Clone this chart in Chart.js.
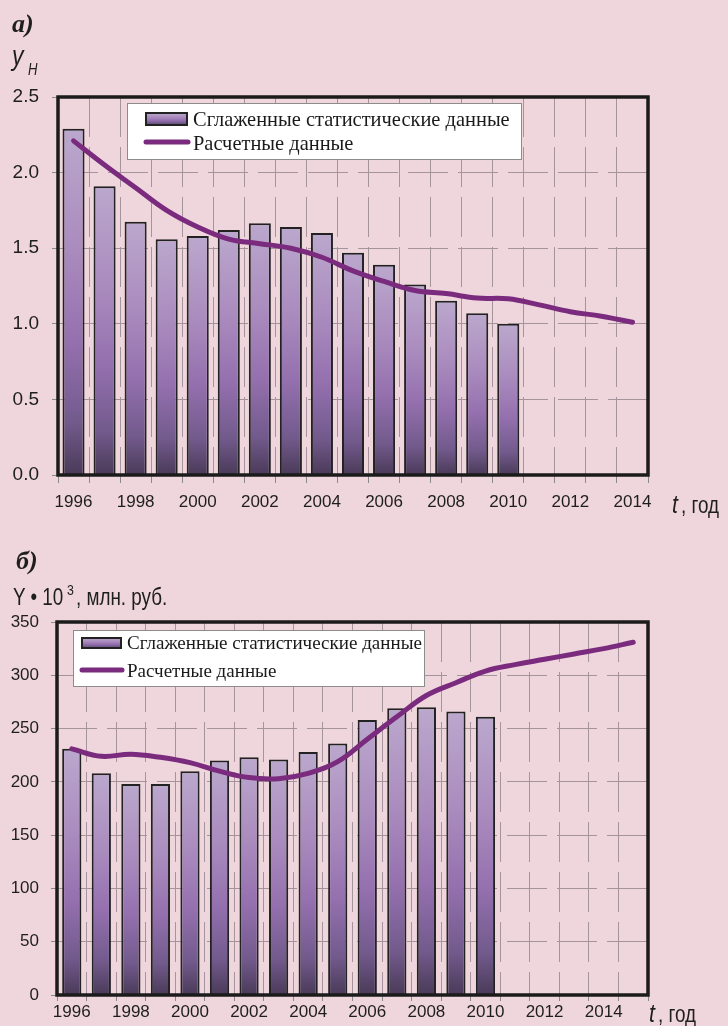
<!DOCTYPE html>
<html>
<head>
<meta charset="utf-8">
<script src="https://cdn.jsdelivr.net/npm/chart.js@4.4.1/dist/chart.umd.min.js"></script>
<style>
  body { margin: 0; background: #efd6dd; width: 728px; height: 1026px; position: relative; overflow: hidden; }
  .wrap { position: absolute; left: 0; width: 728px; }
  #wrapA { top: 0; height: 525px; }
  #wrapB { top: 520px; height: 506px; }
  .lbl { position: absolute; color: #1e1e1e; white-space: nowrap; line-height: 1; transform-origin: left top; }
  .sans { font-family: "Liberation Sans", Arial, sans-serif; transform: scaleX(0.82); }
  .panel { font-family: "Liberation Serif", "Times New Roman", serif; font-weight: bold; font-style: italic; font-size: 26px; }
</style>
</head>
<body>
<div class="wrap" id="wrapA"><canvas id="chartA" width="728" height="525"></canvas></div>
<div class="wrap" id="wrapB"><canvas id="chartB" width="728" height="506"></canvas></div>

<div class="lbl panel" style="left:12px;top:11px">а)</div>
<div class="lbl sans" style="left:12px;top:42px;font-size:28px;font-style:italic">y</div>
<div class="lbl sans" style="left:28px;top:62px;font-size:16px;font-style:italic">H</div>
<div class="lbl sans" style="left:672px;top:491px;font-size:26px;font-style:italic">t</div>
<div class="lbl sans" style="left:681px;top:494px;font-size:23px">, год</div>

<div class="lbl panel" style="left:16px;top:548px">б)</div>
<div class="lbl sans" style="left:13px;top:586px;font-size:23px">Y • 10</div>
<div class="lbl sans" style="left:67px;top:582px;font-size:15px">3</div>
<div class="lbl sans" style="left:76px;top:586px;font-size:23px">, млн. руб.</div>
<div class="lbl sans" style="left:649px;top:1000px;font-size:26px;font-style:italic">t</div>
<div class="lbl sans" style="left:658px;top:1003px;font-size:23px">, год</div>

<script>
// data
const yearsA = ["1996","1997","1998","1999","2000","2001","2002","2003","2004","2005","2006","2007","2008","2009","2010","2011","2012","2013","2014"];
const smoothA = [2.29, 1.91, 1.675, 1.56, 1.58, 1.62, 1.665, 1.64, 1.60, 1.47, 1.39, 1.26, 1.153, 1.07, 1.0];
const calcA = [2.21, 2.05, 1.90, 1.75, 1.64, 1.56, 1.53, 1.50, 1.44, 1.35, 1.28, 1.22, 1.20, 1.17, 1.165, 1.125, 1.08, 1.05, 1.01];

const yearsB = ["1996","1997","1998","1999","2000","2001","2002","2003","2004","2005","2006","2007","2008","2009","2010","2011","2012","2013","2014","2015"];
const smoothB = [231, 208, 198, 198, 210, 220, 223, 221, 228, 236, 258, 269, 270, 266, 261];
const calcB = [231, 224, 226, 223, 218, 210, 204, 203, 208, 219, 240, 261, 281, 293, 304, 310, 315, 320, 325, 331];

const LABEL_BARS = "Сглаженные статистические данные";
const LABEL_LINE = "Расчетные данные";

const LINE_COLOR = "#7b2b7e";
const GRID_COLOR = "#a6949c";
const TICK_COLOR = "#8a8a8a";

// narrow sans if present, otherwise plain sans at a smaller size
function hasFont(name) {
  const c = document.createElement("canvas").getContext("2d");
  c.font = "40px monospace";
  const w0 = c.measureText("1996 Sample").width;
  c.font = '40px "' + name + '", monospace';
  return c.measureText("1996 Sample").width !== w0;
}
const narrow = hasFont("Liberation Sans Narrow");
const tickFamily = narrow ? '"Liberation Sans Narrow"' : '"Liberation Sans", Arial';
const fs = (n, r) => (narrow ? n : r);

function barGradient(ctx, top, bottom) {
  const g = ctx.createLinearGradient(0, top, 0, bottom);
  g.addColorStop(0, "#bba8cd");
  g.addColorStop(0.35, "#aa8bbe");
  g.addColorStop(0.62, "#9470ae");
  g.addColorStop(0.85, "#725a8c");
  g.addColorStop(1, "#4a3a58");
  return g;
}

function barFill(context) {
  const chart = context.chart;
  if (!chart.chartArea || context.raw == null) return "#9a7ab2";
  const y = chart.scales.y;
  return barGradient(chart.ctx, y.getPixelForValue(context.raw), y.getPixelForValue(0));
}

// thick black box round the plot area
const frame = {
  id: "frame",
  afterDatasetsDraw(chart) {
    const { ctx, chartArea: a } = chart;
    ctx.save();
    ctx.strokeStyle = "#1b1b1b";
    ctx.lineWidth = 3.5;
    ctx.strokeRect(a.left, a.top, a.right - a.left, a.bottom - a.top);
    ctx.restore();
  },
};

// legend drawn inside the plot, white box
const boxLegend = {
  id: "boxLegend",
  afterDraw(chart, args, o) {
    const ctx = chart.ctx;
    ctx.save();
    ctx.fillStyle = "#ffffff";
    ctx.fillRect(o.x, o.y, o.w, o.h);
    ctx.strokeStyle = "#8c8c8c";
    ctx.lineWidth = 1;
    ctx.strokeRect(o.x + 0.5, o.y + 0.5, o.w, o.h);

    // bar swatch
    const sx = o.x + o.sw, sy = o.y + o.sy;
    ctx.fillStyle = barGradient(ctx, sy, sy + o.sh);
    ctx.fillRect(sx, sy, o.swW, o.sh);
    ctx.strokeStyle = "#222";
    ctx.lineWidth = 2;
    ctx.strokeRect(sx, sy, o.swW, o.sh);

    // line swatch
    ctx.strokeStyle = LINE_COLOR;
    ctx.lineWidth = 5;
    ctx.lineCap = "round";
    ctx.beginPath();
    ctx.moveTo(sx, o.y + o.ly);
    ctx.lineTo(sx + o.swW + 1, o.y + o.ly);
    ctx.stroke();

    ctx.font = '20px "Liberation Serif", "Times New Roman", serif';
    const size = 20 * o.textW / ctx.measureText(LABEL_BARS).width;
    ctx.font = size.toFixed(2) + 'px "Liberation Serif", "Times New Roman", serif';
    ctx.fillStyle = "#1a1a1a";
    ctx.textBaseline = "alphabetic";
    ctx.fillText(LABEL_BARS, o.x + o.tx, o.y + o.t1);
    ctx.fillText(LABEL_LINE, o.x + o.tx, o.y + o.t2);
    ctx.restore();
  },
};

function gridOpts(tickLength) {
  return { color: GRID_COLOR, lineWidth: 1, tickLength: tickLength, tickColor: TICK_COLOR, tickWidth: 1 };
}

// ---- chart a
new Chart(document.getElementById("chartA"), {
  type: "bar",
  data: {
    labels: yearsA,
    datasets: [
      {
        type: "line",
        label: LABEL_LINE,
        data: calcA,
        borderColor: LINE_COLOR,
        borderWidth: 5,
        pointRadius: 0,
        tension: 0.4,
        borderCapStyle: "round",
        borderJoinStyle: "round",
        order: 0,
      },
      {
        label: LABEL_BARS,
        data: smoothA,
        backgroundColor: barFill,
        borderColor: "#222222",
        borderWidth: 2,
        barPercentage: 0.71,
        categoryPercentage: 1,
        order: 1,
      },
    ],
  },
  options: {
    responsive: false,
    animation: false,
    layout: { padding: { top: 97, right: 80, left: 0, bottom: 0 } },
    plugins: {
      legend: { display: false },
      tooltip: { enabled: false },
      boxLegend: { x: 127, y: 103, w: 394, h: 56, sw: 19, sy: 10, swW: 41, sh: 12, ly: 39, tx: 66, t1: 23, t2: 47, textW: 317 },
    },
    scales: {
      x: {
        grid: Object.assign(gridOpts(8), { offset: true }),
        border: { display: false, dash: [40, 10] },
        ticks: {
          autoSkip: false,
          maxRotation: 0,
          padding: 9,
          color: "#1e1e1e",
          font: { family: tickFamily, size: fs(20, 17) },
          callback: (v, i) => (i % 2 === 0 ? yearsA[i] : ""),
        },
        afterFit: (s) => { s.height = 50; },
      },
      y: {
        min: 0,
        max: 2.5,
        grid: gridOpts(6),
        border: { display: false, dash: [40, 10] },
        ticks: {
          stepSize: 0.5,
          padding: 13,
          color: "#1e1e1e",
          font: { family: tickFamily, size: fs(22, 19) },
          callback: (v) => v.toFixed(1),
        },
        afterFit: (s) => { s.width = 58; },
      },
    },
  },
  plugins: [frame, boxLegend],
});

// ---- chart b
new Chart(document.getElementById("chartB"), {
  type: "bar",
  data: {
    labels: yearsB,
    datasets: [
      {
        type: "line",
        label: LABEL_LINE,
        data: calcB,
        borderColor: LINE_COLOR,
        borderWidth: 5,
        pointRadius: 0,
        tension: 0.4,
        borderCapStyle: "round",
        borderJoinStyle: "round",
        order: 0,
      },
      {
        label: LABEL_BARS,
        data: smoothB,
        backgroundColor: barFill,
        borderColor: "#222222",
        borderWidth: 2,
        barPercentage: 0.65,
        categoryPercentage: 1,
        order: 1,
      },
    ],
  },
  options: {
    responsive: false,
    animation: false,
    layout: { padding: { top: 102, right: 80, left: 0, bottom: 0 } },
    plugins: {
      legend: { display: false },
      tooltip: { enabled: false },
      boxLegend: { x: 73, y: 110, w: 351, h: 56, sw: 9, sy: 8, swW: 39, sh: 10, ly: 40, tx: 54, t1: 19, t2: 47, textW: 295 },
    },
    scales: {
      x: {
        grid: Object.assign(gridOpts(6), { offset: true }),
        border: { display: false, dash: [40, 10] },
        ticks: {
          autoSkip: false,
          maxRotation: 0,
          padding: 1,
          color: "#1e1e1e",
          font: { family: tickFamily, size: fs(20, 17) },
          callback: (v, i) => (i % 2 === 0 ? yearsB[i] : ""),
        },
        afterFit: (s) => { s.height = 31; },
      },
      y: {
        min: 0,
        max: 350,
        grid: gridOpts(6),
        border: { display: false, dash: [40, 10] },
        ticks: {
          stepSize: 50,
          padding: 12,
          color: "#1e1e1e",
          font: { family: tickFamily, size: fs(20, 17) },
        },
        afterFit: (s) => { s.width = 57; },
      },
    },
  },
  plugins: [frame, boxLegend],
});
</script>
</body>
</html>
